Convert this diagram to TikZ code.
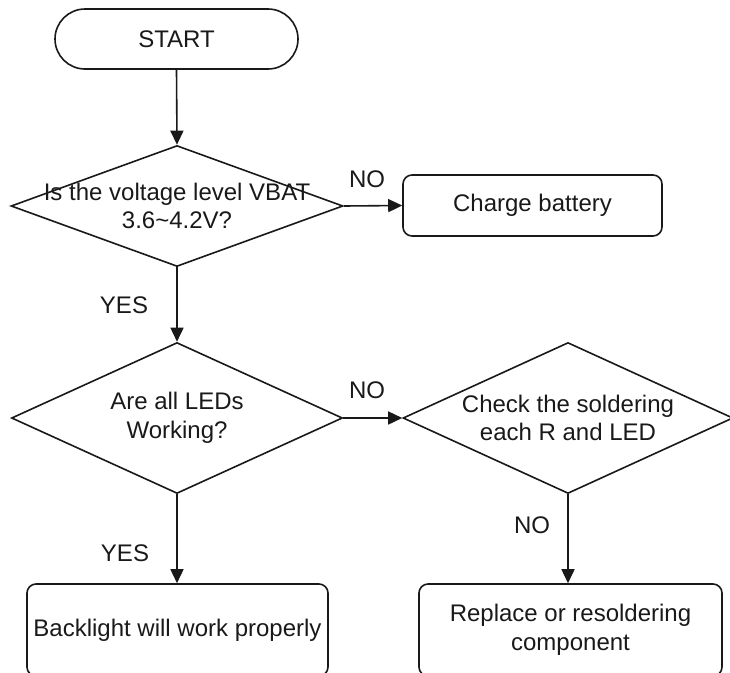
\documentclass[tikz,border=0pt]{standalone}
\usepackage{fontspec}
\setmainfont{Liberation Sans}
\usetikzlibrary{shapes.geometric,arrows.meta}
\begin{document}
\begin{tikzpicture}[x=1pt,y=-1pt,
  every node/.style={font=\fontsize{24}{28.5}\selectfont, text=black!90},
  line/.style={line width=1.6pt, draw=black!90},
  arr/.style={line, -{Triangle[length=14pt,width=13pt]}},
  dia/.style={line, shape=diamond, inner sep=0pt},
  proc/.style={line, rectangle, rounded corners=9pt, inner sep=0pt, align=center},
  lab/.style={inner sep=0pt}]
\useasboundingbox (0,0) rectangle (730,672);
\clip (0,0) rectangle (730,672);
% START
\node[line, rectangle, rounded corners=30pt, minimum width=243pt, minimum height=60pt, inner sep=0pt] (start) at (176.5,39) {\raisebox{-2pt}{START}};
% decisions
\node[dia, minimum width=332pt, minimum height=121pt] (d1) at (177,206) {};
\node[align=center, inner sep=0pt] (t1) at (d1.center) {Is the voltage level VBAT\\3.6\textasciitilde4.2V?};
\node[dia, minimum width=331pt, minimum height=151pt] (d2) at (177,418) {};
\node[align=center, inner sep=0pt] (t2) at (d2.center) {Are all LEDs\\Working?};
\node[dia, minimum width=330pt, minimum height=151pt] (d3) at (568,418) {};
\node[align=center, inner sep=0pt] (t3) at (d3.center) {Check the soldering\\each R and LED};
% process boxes
\node[proc, minimum width=259pt, minimum height=61pt] (charge) at (532.5,205.5) {Charge battery};
\node[proc, minimum width=301pt, minimum height=92pt] (back) at (177.5,630) {Backlight will work properly};
\node[proc, minimum width=303pt, minimum height=92pt] (repl) at (570.5,630) {Replace or resoldering\\component};
% connectors
\draw[arr] (start.south) -- (d1.north);
\draw[arr] (d1.east) -- (charge.west);
\draw[arr] (d1.south) -- (d2.north);
\draw[arr] (d2.east) -- (d3.west);
\draw[arr] (d2.south) -- (back.north -| d2.south);
\draw[arr] (d3.south) -- (repl.north -| d3.south);
% labels
\node[lab] (no1) at (367,179) {NO};
\node[lab] (yes1) at (124,305) {YES};
\node[lab] (no2) at (367,390) {NO};
\node[lab] (yes2) at (125,553) {YES};
\node[lab] (no3) at (532,525) {NO};
\end{tikzpicture}
\end{document}
